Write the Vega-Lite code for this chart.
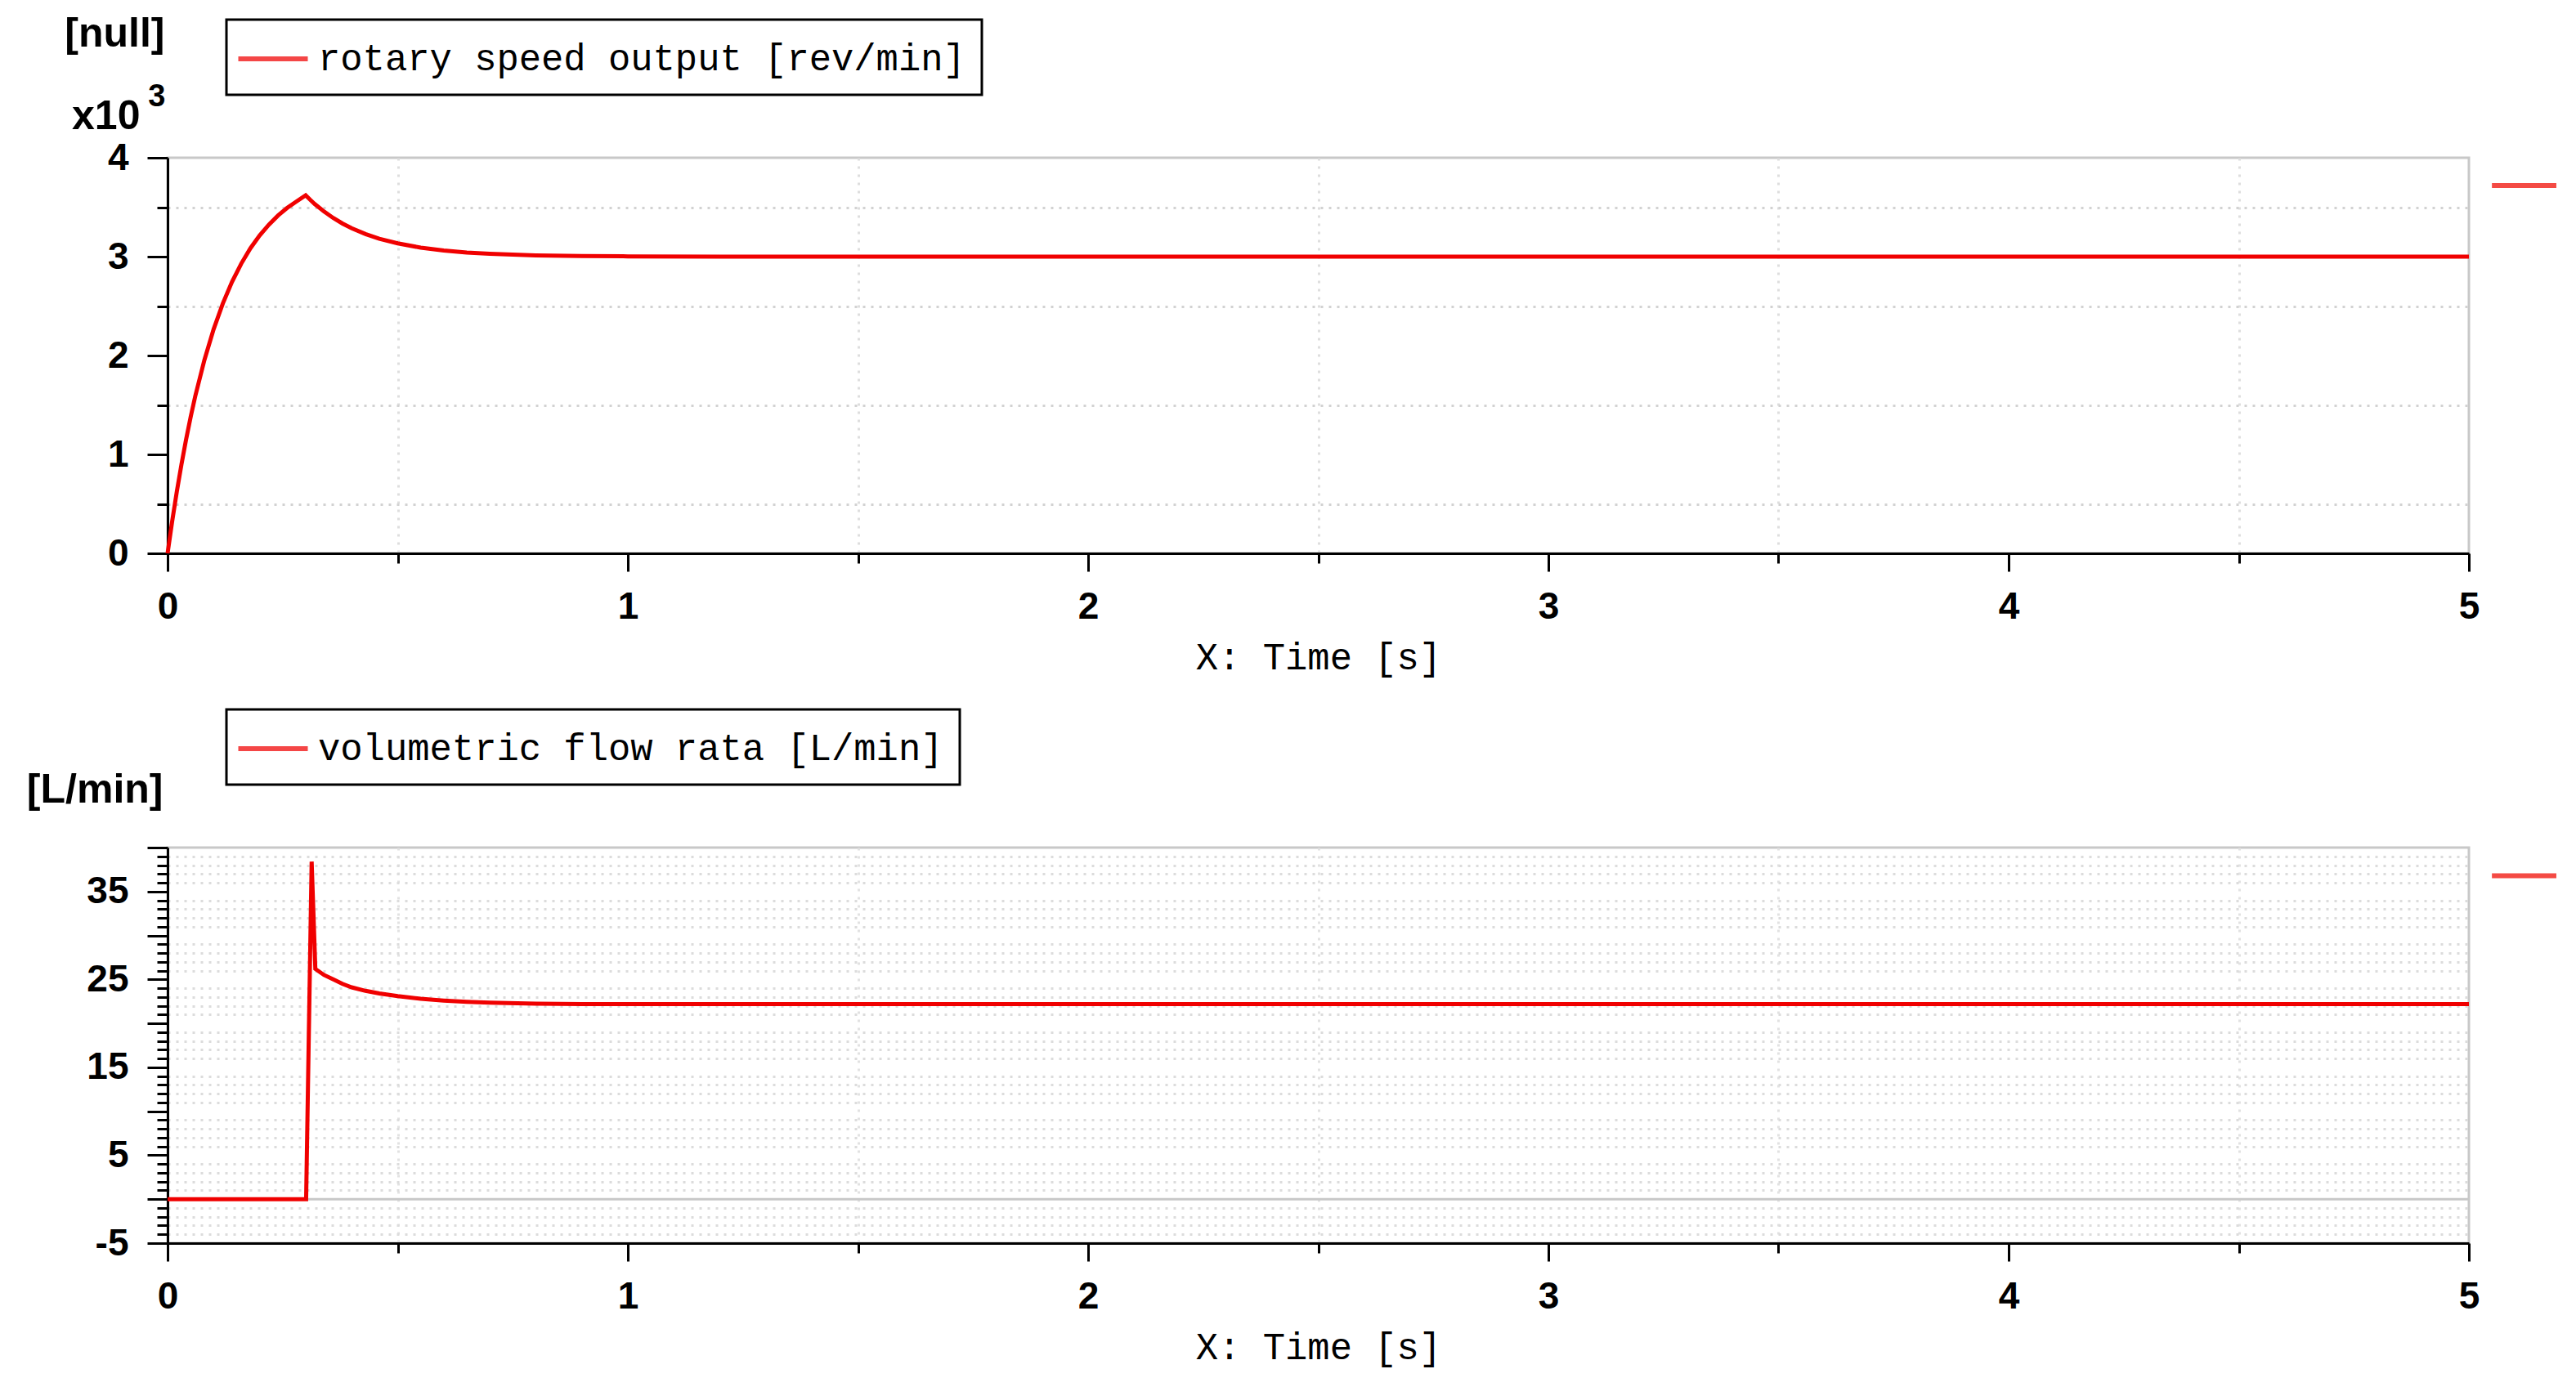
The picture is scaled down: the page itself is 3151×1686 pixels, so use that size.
{
  "$schema": "https://vega.github.io/schema/vega-lite/v6.json",
  "background": "white",
  "padding": {"left": 30, "top": 14, "right": 0, "bottom": 14},
  "datasets": {
    "speed": [
      {"t": 0, "v": 0}, {"t": 0.01, "v": 325}, {"t": 0.02, "v": 623}, {"t": 0.03, "v": 896},
      {"t": 0.04, "v": 1147}, {"t": 0.05, "v": 1377}, {"t": 0.06, "v": 1587}, {"t": 0.08, "v": 1955},
      {"t": 0.10, "v": 2266}, {"t": 0.12, "v": 2526}, {"t": 0.14, "v": 2745}, {"t": 0.16, "v": 2929},
      {"t": 0.18, "v": 3085}, {"t": 0.20, "v": 3214}, {"t": 0.22, "v": 3323}, {"t": 0.24, "v": 3416},
      {"t": 0.26, "v": 3494}, {"t": 0.28, "v": 3558}, {"t": 0.30, "v": 3620}, {"t": 0.31, "v": 3574},
      {"t": 0.32, "v": 3531}, {"t": 0.34, "v": 3456}, {"t": 0.36, "v": 3391}, {"t": 0.38, "v": 3335},
      {"t": 0.40, "v": 3287}, {"t": 0.43, "v": 3228}, {"t": 0.46, "v": 3181}, {"t": 0.50, "v": 3134},
      {"t": 0.55, "v": 3091}, {"t": 0.60, "v": 3062}, {"t": 0.65, "v": 3042}, {"t": 0.70, "v": 3029},
      {"t": 0.80, "v": 3013}, {"t": 0.90, "v": 3006}, {"t": 1.0, "v": 3003}, {"t": 1.2, "v": 3001},
      {"t": 1.5, "v": 3000}, {"t": 2.0, "v": 3000}, {"t": 3.0, "v": 3000}, {"t": 4.0, "v": 3000}, {"t": 5.0, "v": 3000}
    ],
    "flow": [
      {"t": 0, "v": 0}, {"t": 0.301, "v": 0}, {"t": 0.313, "v": 38.4}, {"t": 0.321, "v": 26.2},
      {"t": 0.34, "v": 25.5}, {"t": 0.36, "v": 25.0}, {"t": 0.38, "v": 24.5}, {"t": 0.40, "v": 24.1},
      {"t": 0.43, "v": 23.7}, {"t": 0.46, "v": 23.4}, {"t": 0.50, "v": 23.1}, {"t": 0.55, "v": 22.8},
      {"t": 0.60, "v": 22.6}, {"t": 0.65, "v": 22.45}, {"t": 0.70, "v": 22.35}, {"t": 0.80, "v": 22.25},
      {"t": 0.90, "v": 22.2}, {"t": 1.0, "v": 22.2}, {"t": 2.0, "v": 22.2}, {"t": 3.0, "v": 22.2},
      {"t": 4.0, "v": 22.2}, {"t": 5.0, "v": 22.2}
    ]
  },
  "vconcat": [
    {
      "width": 2815,
      "height": 484,
      "data": {"name": "speed"},
      "resolve": {"axis": {"x": "independent", "y": "independent"}},
      "layer": [
        {
          "mark": {"type": "line", "strokeOpacity": 0},
          "encoding": {
            "x": {"field": "t", "type": "quantitative", "scale": {"domain": [0, 5], "nice": false, "zero": false},
              "axis": {"orient": "bottom", "values": [0.5, 1.5, 2.5, 3.5, 4.5], "labels": false, "domain": false, "tickSize": 12, "title": null, "gridColor": "#dedede"}},
            "y": {"field": "v", "type": "quantitative", "scale": {"domain": [0, 4000], "nice": false, "zero": false},
              "axis": {"orient": "left", "values": [500, 1500, 2500, 3500], "labels": false, "domain": false, "tickSize": 13, "gridColor": "#d2d2d2",
                "title": "x10", "titleAngle": 0, "titleAlign": "right", "titleBaseline": "alphabetic", "titleX": -34, "titleY": -36}}
          }
        },
        {
          "mark": {"type": "line", "strokeWidth": 5},
          "encoding": {
            "x": {"field": "t", "type": "quantitative", "scale": {"domain": [0, 5], "nice": false, "zero": false},
              "axis": {"orient": "bottom", "values": [0, 1, 2, 3, 4, 5], "tickSize": 22, "labelPadding": 21, "gridColor": "#d6d6d6",
                "title": "X: Time [s]", "titleY": 127, "titleBaseline": "middle"}},
            "y": {"field": "v", "type": "quantitative", "scale": {"domain": [0, 4000], "nice": false, "zero": false},
              "axis": {"orient": "left", "values": [0, 1000, 2000, 3000, 4000], "labelExpr": "datum.value / 1000", "tickSize": 25, "labelPadding": 23, "gridColor": "#c4c4c4",
                "title": "[null]", "titleAngle": 0, "titleAlign": "right", "titleBaseline": "alphabetic", "titleX": -4, "titleY": -137}},
            "color": {"datum": "rotary speed output [rev/min]", "type": "nominal", "scale": {"range": ["#f00000"]},
              "legend": {"orient": "none", "legendX": 72, "legendY": -169, "title": null}}
          }
        },
        {
          "data": {"values": [{}]},
          "mark": {"type": "rule", "color": "#f44a44", "strokeWidth": 6, "clip": false},
          "encoding": {
            "x": {"datum": 5.05, "type": "quantitative", "scale": {"domain": [0, 5], "nice": false, "zero": false}, "axis": null},
            "x2": {"datum": 5.19},
            "y": {"datum": 3719, "type": "quantitative", "scale": {"domain": [0, 4000], "nice": false, "zero": false},
              "axis": {"orient": "left", "values": [], "domain": false, "ticks": false, "labels": false, "grid": false,
                "title": "3", "titleFontSize": 38, "titleAngle": 0, "titleAlign": "right", "titleBaseline": "alphabetic", "titleX": -3, "titleY": -64}}
          }
        }
      ]
    },
    {
      "width": 2815,
      "height": 484,
      "data": {"name": "flow"},
      "resolve": {"axis": {"x": "independent", "y": "independent"}},
      "layer": [
        {
          "mark": {"type": "line", "strokeOpacity": 0},
          "encoding": {
            "x": {"field": "t", "type": "quantitative", "scale": {"domain": [0, 5], "nice": false, "zero": false},
              "axis": {"orient": "bottom", "values": [0.5, 1.5, 2.5, 3.5, 4.5], "labels": false, "domain": false, "tickSize": 12, "title": null, "gridColor": "#e2e2e2"}},
            "y": {"field": "v", "type": "quantitative", "scale": {"domain": [-5, 40], "nice": false, "zero": false},
              "axis": {"orient": "left", "values": [-4, -3, -2, -1, 1, 2, 3, 4, 6, 7, 8, 9, 11, 12, 13, 14, 16, 17, 18, 19, 21, 22, 23, 24, 26, 27, 28, 29, 31, 32, 33, 34, 36, 37, 38, 39],
                "labels": false, "domain": false, "tickSize": 13, "gridColor": "#dcdcdc", "title": null}}
          }
        },
        {
          "data": {"values": [{}]},
          "mark": {"type": "rule", "color": "#c8c8c8", "strokeWidth": 3},
          "encoding": {
            "y": {"datum": 0, "type": "quantitative", "scale": {"domain": [-5, 40], "nice": false, "zero": false}, "axis": null}
          }
        },
        {
          "mark": {"type": "line", "strokeWidth": 5},
          "encoding": {
            "x": {"field": "t", "type": "quantitative", "scale": {"domain": [0, 5], "nice": false, "zero": false},
              "axis": {"orient": "bottom", "values": [0, 1, 2, 3, 4, 5], "tickSize": 22, "labelPadding": 21, "gridColor": "#dcdcdc",
                "title": "X: Time [s]", "titleY": 127, "titleBaseline": "middle"}},
            "y": {"field": "v", "type": "quantitative", "scale": {"domain": [-5, 40], "nice": false, "zero": false},
              "axis": {"orient": "left", "values": [-5, 0, 5, 10, 15, 20, 25, 30, 35, 40], "labelExpr": "(datum.value + 5) % 10 == 0 ? '' + datum.value : ''", "tickSize": 25, "labelPadding": 23, "gridColor": "#c0c0c0",
                "title": "[L/min]", "titleAngle": 0, "titleAlign": "right", "titleBaseline": "alphabetic", "titleX": -6, "titleY": -56}},
            "color": {"datum": "volumetric flow rata [L/min]", "type": "nominal", "scale": {"range": ["#f00000"]},
              "legend": {"orient": "none", "legendX": 72, "legendY": -169, "title": null}}
          }
        },
        {
          "data": {"values": [{}]},
          "mark": {"type": "rule", "color": "#f44a44", "strokeWidth": 6, "clip": false},
          "encoding": {
            "x": {"datum": 5.05, "type": "quantitative", "scale": {"domain": [0, 5], "nice": false, "zero": false}, "axis": null},
            "x2": {"datum": 5.19},
            "y": {"datum": 36.8, "type": "quantitative", "scale": {"domain": [-5, 40], "nice": false, "zero": false}, "axis": null}
          }
        }
      ]
    }
  ],
  "spacing": 360,
  "bounds": "flush",
  "resolve": {"scale": {"color": "independent"}},
  "config": {
    "view": {"stroke": "#c8c8c8", "strokeWidth": 3},
    "axis": {
      "domainColor": "#000000", "domainWidth": 3, "tickColor": "#000000", "tickWidth": 3,
      "labelFont": "Liberation Sans", "labelFontSize": 46, "labelFontWeight": "bold", "labelColor": "#000000",
      "labelFlush": false, "labelOverlap": false,
      "titleFont": "Liberation Mono", "titleFontSize": 45.5, "titleFontWeight": "normal", "titleColor": "#000000",
      "grid": true, "gridDash": [3, 7], "gridWidth": 3
    },
    "axisY": {"titleFont": "Liberation Sans", "titleFontSize": 50, "titleFontWeight": "bold"},
    "legend": {
      "padding": 20, "strokeColor": "#000000", "strokeWidth": 3, "fillColor": "#ffffff",
      "symbolType": "M-1.7,0H1.7", "symbolSize": 2500, "symbolStrokeWidth": 6, "symbolOpacity": 0.72, "symbolOffset": 9,
      "labelFont": "Liberation Mono", "labelFontSize": 45.5, "labelColor": "#000000", "labelLimit": 3000, "labelOffset": 27
    }
  }
}
